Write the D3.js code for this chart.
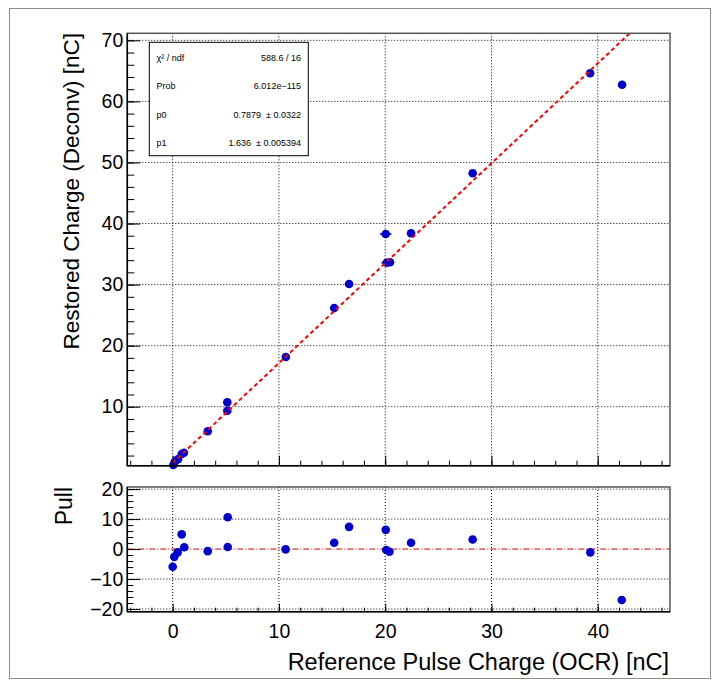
<!DOCTYPE html>
<html><head><meta charset="utf-8">
<script src="https://cdn.jsdelivr.net/npm/d3@7"></script>
<style>
html,body{margin:0;padding:0;background:#fff;}
svg{display:block;font-family:"Liberation Sans",Arial,Helvetica,sans-serif;}
</style></head>
<body>
<svg id="c" width="720" height="687"></svg>
<script>
// ---- data ----
const refCharge  = [0.06, 0.2, 0.5, 0.85, 1.06, 3.3, 5.14, 5.14, 10.65, 15.2, 16.6, 20.05, 20.14, 20.45, 22.43, 28.23, 39.28, 42.29];
const restCharge = [0.46, 1.0, 1.39, 2.26, 2.47, 5.98, 9.35, 10.73, 18.15, 26.16, 30.1, 38.28, 33.58, 33.65, 38.4, 48.22, 64.6, 62.73];
const refErr     = [0, 0, 0, 0, 0, 0, 0, 0, 0, 0, 0, 0.55, 0.5, 0, 0, 0, 0, 0];
const pullX      = [0.0, 0.15, 0.47, 0.85, 1.09, 3.3, 5.18, 5.18, 10.63, 15.2, 16.6, 20.05, 20.1, 20.4, 22.43, 28.23, 39.3, 42.26];
const pullVal    = [-5.9, -2.6, -1.1, 4.9, 0.6, -0.7, 10.6, 0.7, -0.1, 2.1, 7.4, 6.4, -0.3, -0.9, 2.1, 3.2, -1.1, -17.0];
const fitP0 = 0.7879, fitP1 = 1.636;
const statLabels = ["\u03C7\u00B2 / ndf", "Prob", "p0", "p1"];
const statValues = ["588.6 / 16", "6.012e\u2212115", "0.7879  \u00B1 0.0322", "1.636  \u00B1 0.005394"];
const xTicks = [0, 10, 20, 30, 40];
const yTicks = [10, 20, 30, 40, 50, 60, 70];
const pullTicks = [-20, -10, 0, 10, 20];

const svg = d3.select("#c");
const FX0 = 127.3, FX1 = 670;
const TY0 = 33.3, TY1 = 465.7;
const PY0 = 487, PY1 = 611.7;
const TICKFONT = 19.5;

const x = d3.scaleLinear().domain([-4.27, 46.8]).range([FX0, FX1]);
const y = d3.scaleLinear().domain([0.34, 71.15]).range([TY1, TY0]);
const yp = d3.scaleLinear().domain([-20.9, 20.7]).range([PY1, PY0]);

// outer border
svg.append("rect").attr("x", 9.5).attr("y", 8.5).attr("width", 701).attr("height", 670)
  .attr("fill", "none").attr("stroke", "#8c8c8c").attr("stroke-width", 1);

const grid = "1,2";
function minorVals(lo, hi, step){ const a=[]; for(let v=Math.ceil(lo/step)*step; v<=hi+1e-9; v+=step){ a.push(+v.toFixed(6)); } return a; }

// ---------- top pad ----------
const gTop = svg.append("g");
gTop.append("defs").append("clipPath").attr("id","clipTop").append("rect")
  .attr("x",FX0).attr("y",TY0).attr("width",FX1-FX0).attr("height",TY1-TY0);
gTop.selectAll(".gx").data(xTicks).join("line")
  .attr("x1", d=>x(d)).attr("x2", d=>x(d)).attr("y1", TY0).attr("y2", TY1)
  .attr("stroke", "#000").attr("stroke-width", 1).attr("stroke-dasharray", grid);
gTop.selectAll(".gy").data(yTicks).join("line")
  .attr("x1", FX0).attr("x2", FX1).attr("y1", d=>y(d)).attr("y2", d=>y(d))
  .attr("stroke", "#000").attr("stroke-width", 1).attr("stroke-dasharray", grid);

// error bars
const pts = refCharge.map((v,i)=>({x:v, y:restCharge[i], ex:refErr[i]}));
gTop.selectAll(".eb").data(pts.filter(d=>d.ex>0)).join("line")
  .attr("x1", d=>x(d.x-d.ex)).attr("x2", d=>x(d.x+d.ex)).attr("y1", d=>y(d.y)).attr("y2", d=>y(d.y))
  .attr("stroke", "#0000cc").attr("stroke-width", 1.5);
gTop.selectAll(".pt").data(pts).join("circle")
  .attr("cx", d=>x(d.x)).attr("cy", d=>y(d.y)).attr("r", 4.3).attr("fill", "#0000cc");

// fit line
const fx = [0, 46.8];
gTop.append("line").attr("clip-path","url(#clipTop)")
  .attr("x1", x(fx[0])).attr("y1", y(fitP0 + fitP1*fx[0]))
  .attr("x2", x(fx[1])).attr("y2", y(fitP0 + fitP1*fx[1]))
  .attr("stroke", "#ff0000").attr("stroke-width", 2).attr("stroke-dasharray", "4,3");

// stats box
const sb = gTop.append("g");
sb.append("rect").attr("x", 149.3).attr("y", 42.3).attr("width", 159).attr("height", 113.4)
  .attr("fill", "#fff").attr("stroke", "#000").attr("stroke-width", 1);
const rowY = [60.5, 89.3, 117.8, 146.3];
sb.selectAll(".sl").data(statLabels).join("text")
  .attr("x", 156.5).attr("y", (d,i)=>rowY[i]).attr("font-size", 9).attr("fill", "#000").text(d=>d);
sb.selectAll(".sv").data(statValues).join("text")
  .attr("x", 301).attr("y", (d,i)=>rowY[i]).attr("font-size", 9).attr("fill", "#000")
  .attr("text-anchor", "end").style("white-space", "pre").text(d=>d);

// frame + axes top
gTop.append("rect").attr("x", FX0).attr("y", TY0).attr("width", FX1-FX0).attr("height", TY1-TY0)
  .attr("fill", "none").attr("stroke", "#555").attr("stroke-width", 1.5);

function styleAxis(g){ g.select(".domain").remove(); g.selectAll("line").attr("stroke","#000"); }

const yMinor = minorVals(0.34, 71.15, 2);
gTop.append("g").attr("transform", `translate(${FX0},0)`)
  .call(d3.axisLeft(y).tickValues(yMinor).tickSize(-7).tickFormat(""))
  .call(styleAxis);
gTop.append("g").attr("transform", `translate(${FX0},0)`)
  .call(d3.axisLeft(y).tickValues(yTicks).tickSize(-13).tickPadding(4).tickFormat(d3.format("d")))
  .call(styleAxis)
  .call(g=>g.selectAll("text").attr("font-size", TICKFONT).attr("fill","#000").attr("font-family","Liberation Sans, Arial, sans-serif"));
const xMinor = minorVals(-4.27, 46.8, 2);
gTop.append("g").attr("transform", `translate(0,${TY1})`)
  .call(d3.axisBottom(x).tickValues(xMinor).tickSize(-5).tickFormat(""))
  .call(styleAxis);
gTop.append("g").attr("transform", `translate(0,${TY1})`)
  .call(d3.axisBottom(x).tickValues(xTicks).tickSize(-10).tickFormat(""))
  .call(styleAxis);
gTop.append("line").attr("x1",FX0).attr("x2",FX0).attr("y1",TY0).attr("y2",TY1).attr("stroke","#000").attr("stroke-width",1.5);
gTop.append("line").attr("x1",FX0).attr("x2",FX1).attr("y1",TY1).attr("y2",TY1).attr("stroke","#000").attr("stroke-width",1.5);

svg.append("text").attr("transform", `translate(79,33) rotate(-90)`).attr("text-anchor","end")
  .attr("font-size", 22.5).attr("fill","#000").text("Restored Charge (Deconv) [nC]");

// ---------- pull pad ----------
const gBot = svg.append("g");
gBot.selectAll(".gx").data(xTicks).join("line")
  .attr("x1", d=>x(d)).attr("x2", d=>x(d)).attr("y1", PY0).attr("y2", PY1)
  .attr("stroke", "#000").attr("stroke-width", 1).attr("stroke-dasharray", grid);
gBot.selectAll(".gy").data(pullTicks.filter(d=>d!==0)).join("line")
  .attr("x1", FX0).attr("x2", FX1).attr("y1", d=>yp(d)).attr("y2", d=>yp(d))
  .attr("stroke", "#000").attr("stroke-width", 1).attr("stroke-dasharray", grid);
gBot.append("line").attr("x1", FX0).attr("x2", FX1).attr("y1", yp(0)).attr("y2", yp(0))
  .attr("stroke", "#cc0000").attr("stroke-width", 1).attr("stroke-dasharray", "6,2,1,2");
const pp = pullX.map((v,i)=>({x:v, y:pullVal[i]}));
gBot.selectAll(".pp").data(pp).join("circle")
  .attr("cx", d=>x(d.x)).attr("cy", d=>yp(d.y)).attr("r", 4.3).attr("fill", "#0000cc");

gBot.append("rect").attr("x", FX0).attr("y", PY0).attr("width", FX1-FX0).attr("height", PY1-PY0)
  .attr("fill", "none").attr("stroke", "#555").attr("stroke-width", 1.5);
const pMinor = minorVals(-20.9, 20.7, 2);
gBot.append("g").attr("transform", `translate(${FX0},0)`)
  .call(d3.axisLeft(yp).tickValues(pMinor).tickSize(-6).tickFormat(""))
  .call(styleAxis);
gBot.append("g").attr("transform", `translate(${FX0},0)`)
  .call(d3.axisLeft(yp).tickValues(pullTicks).tickSize(-13).tickPadding(4).tickFormat(d3.format("d")))
  .call(styleAxis)
  .call(g=>g.selectAll("text").attr("font-size", TICKFONT).attr("fill","#000").attr("font-family","Liberation Sans, Arial, sans-serif"));
gBot.append("g").attr("transform", `translate(0,${PY1})`)
  .call(d3.axisBottom(x).tickValues(xMinor).tickSize(-4).tickFormat(""))
  .call(styleAxis);
gBot.append("g").attr("transform", `translate(0,${PY1})`)
  .call(d3.axisBottom(x).tickValues(xTicks).tickSize(-8).tickPadding(12).tickFormat(d3.format("d")))
  .call(styleAxis)
  .call(g=>g.selectAll("text").attr("font-size", TICKFONT).attr("fill","#000").attr("font-family","Liberation Sans, Arial, sans-serif"));
gBot.append("line").attr("x1",FX0).attr("x2",FX0).attr("y1",PY0).attr("y2",PY1).attr("stroke","#000").attr("stroke-width",1.5);
gBot.append("line").attr("x1",FX0).attr("x2",FX1).attr("y1",PY1).attr("y2",PY1).attr("stroke","#000").attr("stroke-width",1.5);

svg.append("text").attr("transform", `translate(72,487) rotate(-90)`).attr("text-anchor","end")
  .attr("font-size", 23).attr("fill","#000").text("Pull");
svg.append("text").attr("x", 669).attr("y", 670).attr("text-anchor","end")
  .attr("font-size", 23.5).attr("fill","#000").text("Reference Pulse Charge (OCR) [nC]");
</script>
</body></html>
